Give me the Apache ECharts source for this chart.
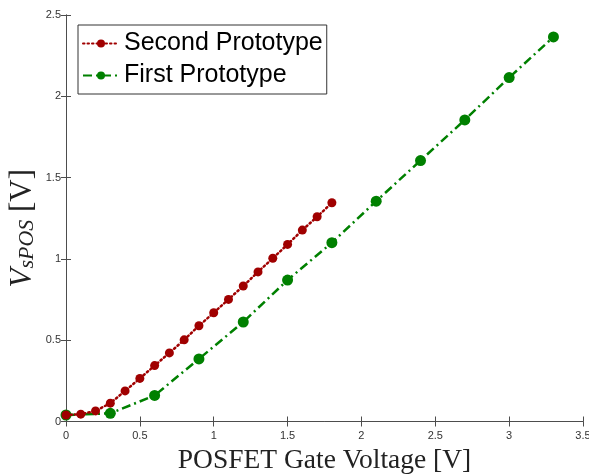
<!DOCTYPE html>
<html><head><meta charset="utf-8">
<script src="https://cdn.jsdelivr.net/npm/echarts@6/dist/echarts.min.js"></script>
<style>html,body{margin:0;padding:0;background:#fff}#c{width:589px;height:474px}</style>
</head><body><div id="c"></div>
<script>
var secondX = [0,0.1,0.2,0.3,0.4,0.5,0.6,0.7,0.8,0.9,1.0,1.1,1.2,1.3,1.4,1.5,1.6,1.7,1.8];
var secondY = [0.04,0.045,0.065,0.113,0.188,0.265,0.344,0.422,0.502,0.589,0.669,0.751,0.833,0.92,1.004,1.089,1.177,1.259,1.345];
var firstX = [0,0.3,0.6,0.9,1.2,1.5,1.8,2.1,2.4,2.7,3.0,3.3];
var firstY = [0.04,0.05,0.16,0.385,0.612,0.87,1.10,1.355,1.605,1.855,2.115,2.365];
var seriesNames = ['Second Prototype','First Prototype'];
var xTicks = {min:0,max:3.5,interval:0.5};
var yTicks = {min:0,max:2.5,interval:0.5};

function pairs(xs, ys){ return xs.map(function(x,i){return [x, ys[i]];}); }

var chart = echarts.init(document.getElementById('c'), null, {renderer:'canvas'});
var axisCol = '#4d4d4d';
var tickLabel = {color:'#333', fontSize:11, fontFamily:'Liberation Sans, Arial, sans-serif'};
chart.setOption({
  animation:false,
  backgroundColor:'#fff',
  grid:{left:66, right:6, top:15, bottom:52.5, containLabel:false, outerBoundsMode:'none'},
  legend:{
    left:78, top:25, orient:'vertical',
    data:seriesNames,
    backgroundColor:'#fff', borderColor:'#333', borderWidth:1,
    padding:[6,4,6,4], itemGap:7, itemWidth:36, itemHeight:10,
    textStyle:{fontSize:25, color:'#000', fontFamily:'Liberation Sans, Arial, sans-serif'}
  },
  xAxis:[{
    type:'value', min:xTicks.min, max:xTicks.max, interval:xTicks.interval,
    position:'bottom',
    axisLine:{show:true, lineStyle:{color:axisCol, width:1}},
    axisTick:{show:true, inside:true, length:5, lineStyle:{color:axisCol}},
    splitLine:{show:false},
    axisLabel:Object.assign({margin:9, formatter:function(v){return String(v);}}, tickLabel),
    name:'POSFET Gate Voltage [V]', nameLocation:'middle', nameGap:21,
    nameTextStyle:{fontSize:27.5, color:'#222', fontFamily:'Liberation Serif, Times New Roman, serif'}
  },{
    type:'value', min:xTicks.min, max:xTicks.max, interval:xTicks.interval,
    position:'top',
    axisLine:{show:true, lineStyle:{color:axisCol, width:1}},
    axisTick:{show:true, inside:true, length:5, lineStyle:{color:axisCol}},
    axisLabel:{show:false}, splitLine:{show:false}
  }],
  yAxis:[{
    type:'value', min:yTicks.min, max:yTicks.max, interval:yTicks.interval,
    position:'left',
    axisLine:{show:true, lineStyle:{color:axisCol, width:1}},
    axisTick:{show:true, inside:true, length:5, lineStyle:{color:axisCol}},
    splitLine:{show:false},
    axisLabel:Object.assign({margin:5, formatter:function(v){return String(v);}}, tickLabel),
    name:'{v|V}{s|sPOS}{n| [V]}', nameLocation:'middle', nameGap:28, nameMoveOverlap:false,
    nameTextStyle:{
      color:'#222', fontFamily:'Liberation Serif, Times New Roman, serif', fontSize:30,
      padding:[0,20,0,0],
      rich:{
        v:{fontSize:31, fontStyle:'italic', fontFamily:'Liberation Serif, serif', color:'#222', verticalAlign:'bottom', lineHeight:33},
        s:{fontSize:22, fontStyle:'italic', fontFamily:'Liberation Serif, serif', color:'#222', verticalAlign:'bottom', lineHeight:22},
        n:{fontSize:31, fontFamily:'Liberation Serif, serif', color:'#222', verticalAlign:'bottom', lineHeight:33}
      }
    }
  },{
    type:'value', min:yTicks.min, max:yTicks.max, interval:yTicks.interval,
    position:'right',
    axisLine:{show:true, lineStyle:{color:axisCol, width:1}},
    axisTick:{show:true, inside:true, length:5, lineStyle:{color:axisCol}},
    axisLabel:{show:false}, splitLine:{show:false}
  }],
  series:[{
    name:seriesNames[0], type:'line', xAxisIndex:0, yAxisIndex:0,
    data:pairs(secondX, secondY),
    symbol:'circle', symbolSize:9,
    itemStyle:{color:'#a00000'},
    lineStyle:{color:'#a00000', width:2.5, type:[1.5,3], cap:'round'},
    z:3
  },{
    name:seriesNames[1], type:'line', xAxisIndex:0, yAxisIndex:0,
    data:pairs(firstX, firstY),
    symbol:'circle', symbolSize:11,
    itemStyle:{color:'#008000'},
    lineStyle:{color:'#008000', width:2.5, type:[9,4,2,4]},
    z:2
  }]
});
</script></body></html>
